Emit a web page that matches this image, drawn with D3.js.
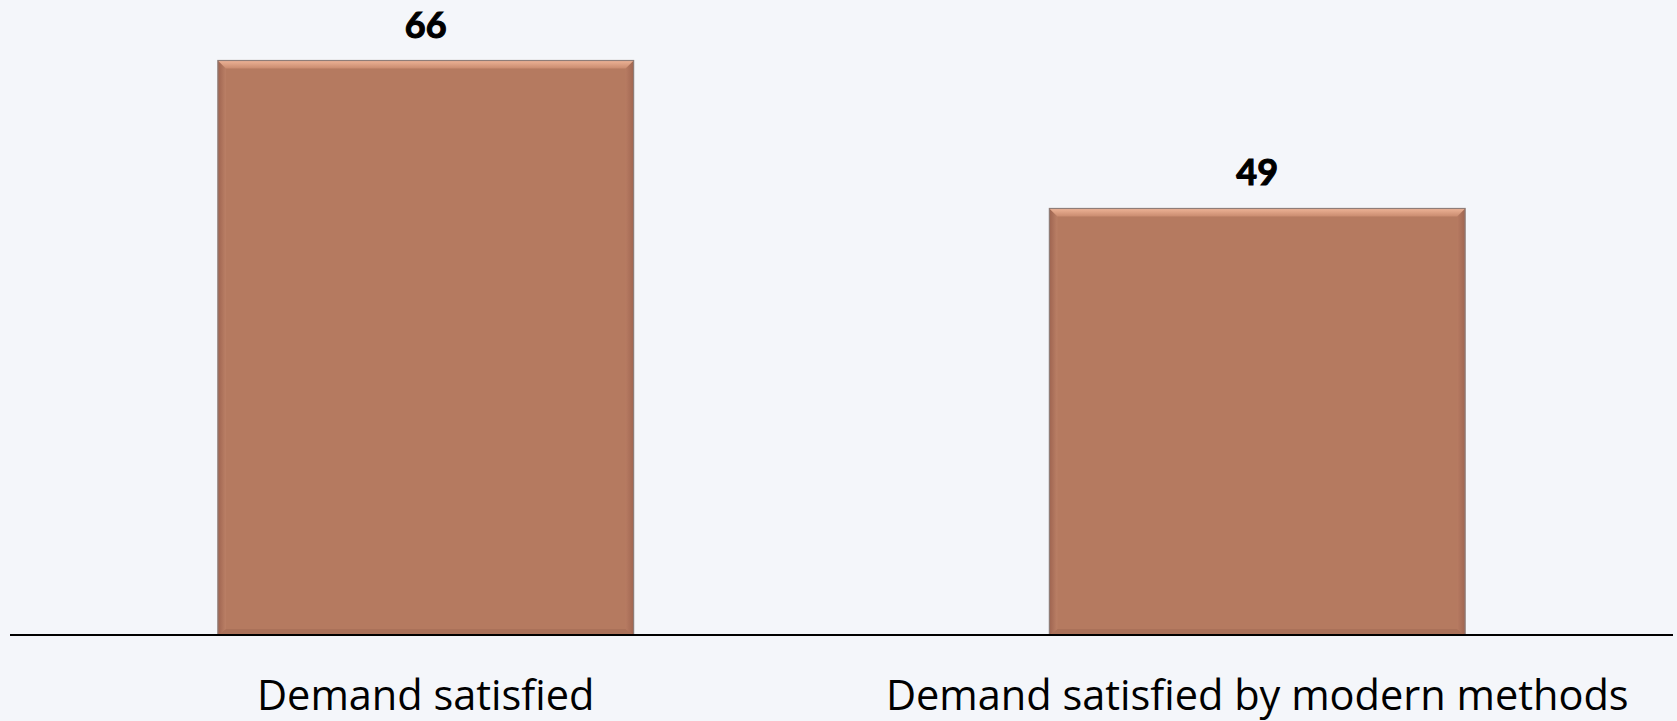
<!DOCTYPE html>
<html><head><meta charset="utf-8">
<script src="https://cdn.jsdelivr.net/npm/d3@7"></script>
<style>
html,body{margin:0;padding:0;background:#f4f6fa;}
svg{display:block;}
</style></head>
<body>
<svg id="chart" width="1677" height="721"></svg>
<script>
const categories = ["Demand satisfied", "Demand satisfied by modern methods"];
const values = [66, 49];

const W = 1677, H = 721;
const svg = d3.select("#chart");
svg.append("rect").attr("width", W).attr("height", H).attr("fill", "#f4f6fa");

const x = d3.scaleBand().domain(categories).range([10, 1673]).paddingInner(0.5).paddingOuter(0.25);
const y = d3.scaleLinear().domain([0, 66]).range([635, 60.5]);

const defs = svg.append("defs");
const gTop = defs.append("linearGradient").attr("id", "gTop").attr("x1", 0).attr("y1", 0).attr("x2", 0).attr("y2", 1);
gTop.append("stop").attr("offset", "0%").attr("stop-color", "#eeb497");
gTop.append("stop").attr("offset", "100%").attr("stop-color", "#c98b6f");
const gLeft = defs.append("linearGradient").attr("id", "gLeft").attr("x1", 0).attr("y1", 0).attr("x2", 1).attr("y2", 0);
gLeft.append("stop").attr("offset", "0%").attr("stop-color", "#9e6450");
gLeft.append("stop").attr("offset", "100%").attr("stop-color", "#bb8066");
const gRight = defs.append("linearGradient").attr("id", "gRight").attr("x1", 0).attr("y1", 0).attr("x2", 1).attr("y2", 0);
gRight.append("stop").attr("offset", "0%").attr("stop-color", "#b77b62");
gRight.append("stop").attr("offset", "100%").attr("stop-color", "#a06651");

const b = 8;
const bars = svg.selectAll("g.bar").data(categories.map((c, i) => ({c, v: values[i]}))).enter().append("g").attr("class", "bar");
bars.each(function(d) {
  const g = d3.select(this);
  const x0 = x(d.c), x1 = x(d.c) + x.bandwidth(), y0 = y(d.v), y1 = y(0);
  g.append("rect").attr("x", x0).attr("y", y0).attr("width", x1 - x0).attr("height", y1 - y0).attr("fill", "#b57a60");
  g.append("polygon").attr("points", [[x0, y1], [x1, y1], [x1 - b, y1 - 6], [x0 + b, y1 - 6]].map(p => p.join(",")).join(" ")).attr("fill", "#aa7159");
  g.append("polygon").attr("points", [[x0, y0], [x0 + b, y0 + b], [x0 + b, y1 - 6], [x0, y1]].map(p => p.join(",")).join(" ")).attr("fill", "url(#gLeft)");
  g.append("polygon").attr("points", [[x1, y0], [x1 - b, y0 + b], [x1 - b, y1 - 6], [x1, y1]].map(p => p.join(",")).join(" ")).attr("fill", "url(#gRight)");
  g.append("polygon").attr("points", [[x0, y0], [x1, y0], [x1 - b, y0 + b], [x0 + b, y0 + b]].map(p => p.join(",")).join(" ")).attr("fill", "url(#gTop)");
  g.append("rect").attr("x", x0).attr("y", y0).attr("width", x1 - x0).attr("height", y1 - y0)
    .attr("fill", "none").attr("stroke", "#8f7d78").attr("stroke-width", 1.2);
});

// axis line
svg.append("line").attr("x1", 10).attr("x2", 1673).attr("y1", y(0)).attr("y2", y(0))
  .attr("stroke", "#000").attr("stroke-width", 2);

// value labels
svg.selectAll("text.val").data(values).enter().append("text").attr("class", "val")
  .attr("x", (d, i) => x(categories[i]) + x.bandwidth() / 2)
  .attr("y", d => y(d) - 23)
  .attr("text-anchor", "middle")
  .attr("font-family", "Lato, 'Open Sans', sans-serif").attr("font-weight", "bold").attr("font-size", 36)
  .attr("fill", "#000").attr("stroke", "#000").attr("stroke-width", 1.1).text(d => d);

// category labels
svg.selectAll("text.cat").data(categories).enter().append("text").attr("class", "cat")
  .attr("x", d => x(d) + x.bandwidth() / 2)
  .attr("y", 710)
  .attr("text-anchor", "middle")
  .attr("font-family", "'Open Sans', sans-serif").attr("font-size", 41.5)
  .attr("fill", "#000").text(d => d);
</script>
</body></html>
